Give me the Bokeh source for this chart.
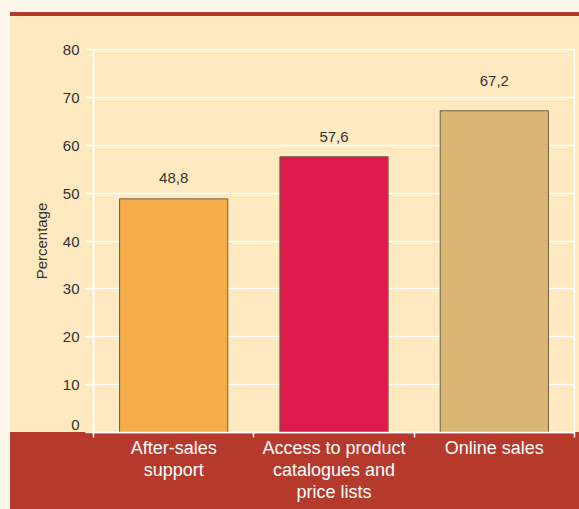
from bokeh.plotting import figure
from bokeh.models import Range1d, LinearAxis, FixedTicker, ColumnDataSource
from bokeh.core.properties import value
from bokeh.embed import file_html
from bokeh.resources import INLINE

# ---- data ----
categories = ["After-sales\nsupport", "Access to product\ncatalogues and\nprice lists", "Online sales"]
values = [48.8, 57.6, 67.2]
bar_colors = ["#f5ad4b", "#e0194d", "#d9b673"]
y_ticks = [0, 10, 20, 30, 40, 50, 60, 70, 80]
label_offsets = [-21, -20, -30]

PEACH = "#fee9c1"
LIGHT = "#fdf4ea"
RED = "#b53a2c"
TXT = "#333333"
FONT = "Liberation Sans"

n = len(categories)
centers = [i + 0.5 for i in range(n)]
labels = [f"{v:.1f}".replace(".", ",") for v in values]
src = ColumnDataSource(dict(x=centers, val=values, color=bar_colors, lab=labels, off=label_offsets))

W, H = 579, 509
p = figure(width=W, height=H,
           x_range=Range1d(0, n), y_range=Range1d(0, 80),
           output_backend="svg", toolbar_location=None, x_axis_location=None,
           min_border_left=93, min_border_right=5, min_border_top=49, min_border_bottom=77)
p.border_fill_alpha = 0
p.background_fill_alpha = 0
p.styles = {
    "background": (
        f"linear-gradient(to right, {LIGHT} 0px, {LIGHT} 10px, transparent 10px), "
        f"linear-gradient(to bottom, {LIGHT} 0px, {LIGHT} 12px, {RED} 12px, {RED} 16px, "
        f"{PEACH} 16px, {PEACH} 432px, {RED} 432px, {RED} 100%)"
    )
}
p.outline_line_color = "white"
p.outline_line_width = 1.5

# y axis
yt = FixedTicker(ticks=y_ticks)
p.yaxis.ticker = yt
p.ygrid.ticker = yt
p.ygrid.grid_line_color = "white"
p.ygrid.grid_line_width = 1.5
p.xgrid.visible = False
ya = p.yaxis[0]
ya.axis_line_color = "white"
ya.axis_line_width = 1.5
ya.major_tick_line_color = "white"
ya.major_tick_line_width = 1.5
ya.major_tick_out = 8
ya.major_tick_in = 0
ya.minor_tick_line_color = None
ya.major_label_text_font = FONT
ya.major_label_text_font_size = "15px"
ya.major_label_text_color = TXT
ya.major_label_standoff = 6
ya.major_label_text_line_height = 1.0
ya.major_label_overrides = {y_ticks[0]: f"{y_ticks[0]}\n"}  # keep the 0 label above the band
ya.axis_label = "Percentage"
ya.axis_label_text_font = FONT
ya.axis_label_text_font_size = "15px"
ya.axis_label_text_font_style = "normal"
ya.axis_label_text_color = TXT
ya.axis_label_standoff = 10

# x axes: boundary ticks + category labels
tick_axis = LinearAxis(ticker=FixedTicker(ticks=list(range(n + 1))),
                       major_label_overrides={i: "" for i in range(n + 1)},
                       major_label_text_font_size="0px", major_label_standoff=0,
                       axis_line_color="white", axis_line_width=1.5,
                       major_tick_line_color="white", major_tick_line_width=1.5,
                       major_tick_out=5, major_tick_in=0, minor_tick_line_color=None)
p.add_layout(tick_axis, "below")
cat_axis = LinearAxis(ticker=FixedTicker(ticks=centers),
                      major_label_overrides=dict(zip(centers, categories)),
                      axis_line_color=None, major_tick_line_color=None,
                      minor_tick_line_color=None, major_tick_out=0,
                      major_label_text_font=FONT, major_label_text_font_size="18px",
                      major_label_text_color="white", major_label_standoff=0,
                      major_label_text_line_height=1.12)
p.add_layout(cat_axis, "below")

p.vbar(x="x", top="val", width=0.675, fill_color="color", line_color="#6f5f48",
       line_width=1, source=src)
p.text(x="x", y="val", text="lab", y_offset="off", source=src,
       text_align="center", text_baseline="alphabetic",
       text_font=value(FONT), text_font_size="15px", text_color=TXT)

open("out.html", "w").write(file_html(p, INLINE))
